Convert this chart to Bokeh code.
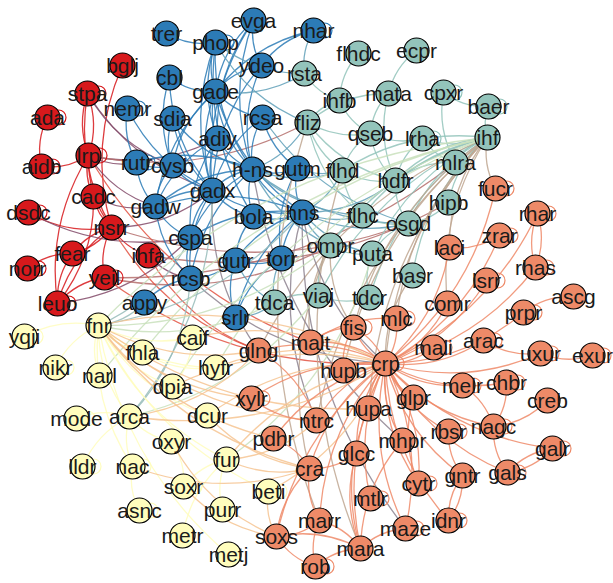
import numpy as np
from bokeh.plotting import figure
from bokeh.models import Range1d, ColumnDataSource
from bokeh.core.properties import value
from bokeh.embed import file_html
from bokeh.resources import INLINE

# ---- communities ----
red_nodes = ["bglj", "stpa", "ada", "aidb", "lrp", "cadc", "dsdc", "nsrr", "fear", "ihfa", "norr", "yeil", "leuo"]
blue_nodes = ["trer", "phop", "evga", "nhar", "cbl", "ydeo", "nemr", "gade", "sdia", "rcsa", "adiy", "rutr", "cysb",
              "h-ns", "gutm", "gadx", "gadw", "bola", "hns", "cspa", "rcsb", "gutr", "torr", "appy", "srlr"]
teal_nodes = ["flhdc", "ecpr", "rsta", "ihfb", "mata", "cpxr", "baer", "fliz", "qseb", "lrha", "ihf", "flhd", "hdfr",
              "mlra", "hipb", "flhc", "osgd", "ompr", "puta", "basr", "tdca", "viaj", "tdcr"]
salmon_nodes = ["fucr", "rhar", "zrar", "laci", "rhas", "lsrr", "ascg", "comr", "prpr", "mlc", "fis", "malt", "glng",
                "crp", "hupb", "mali", "arac", "uxur", "exur", "chbr", "melr", "creb", "xylr", "hupa", "glpr", "nagc",
                "ntrc", "pdhr", "mhpr", "rbsr", "galr", "glcc", "cra", "gntr", "gals", "cytr", "mtlr", "idnr", "maze",
                "marr", "soxs", "mara", "rob"]
yellow_nodes = ["yqji", "fnr", "caif", "fhla", "nikr", "narl", "hyfr", "dpia", "mode", "arca", "dcur", "oxyr", "fur",
                "lldr", "nac", "beti", "soxr", "asnc", "purr", "metr", "metj"]

# ---- layout (graph layout coordinates) ----
layout = {
    "bglj": (122, 65), "stpa": (87, 93), "ada": (47, 117), "aidb": (41, 166), "lrp": (88, 155), "cadc": (93, 196),
    "dsdc": (28, 212), "nsrr": (111, 227), "fear": (72, 253), "ihfa": (148, 255), "norr": (27, 268),
    "yeil": (104, 277), "leuo": (57, 303),
    "trer": (166, 33), "phop": (215, 42), "evga": (253, 20), "nhar": (313, 30), "cbl": (169, 77), "ydeo": (261, 65),
    "nemr": (127, 108), "gade": (215, 91), "sdia": (172, 118), "rcsa": (262, 117), "adiy": (217, 138),
    "rutr": (136, 162), "cysb": (172, 165), "h-ns": (252, 169), "gutm": (297, 168), "gadx": (212, 190),
    "gadw": (155, 206), "bola": (253, 216), "hns": (302, 212), "cspa": (190, 237), "rcsb": (190, 278),
    "gutr": (235, 260), "torr": (281, 258), "appy": (144, 302), "srlr": (235, 317),
    "flhdc": (358, 53), "ecpr": (416, 50), "rsta": (304, 73), "ihfb": (339, 100), "mata": (388, 93),
    "cpxr": (443, 92), "baer": (488, 106), "fliz": (307, 122), "qseb": (370, 133), "lrha": (422, 138),
    "ihf": (487, 137), "flhd": (342, 170), "hdfr": (395, 180), "mlra": (455, 162), "hipb": (448, 202),
    "flhc": (362, 215), "osgd": (408, 223), "ompr": (330, 245), "puta": (372, 253), "basr": (412, 275),
    "tdca": (274, 302), "viaj": (318, 295), "tdcr": (369, 297),
    "fucr": (495, 188), "rhar": (537, 213), "zrar": (499, 235), "laci": (449, 247), "rhas": (535, 267),
    "lsrr": (486, 280), "ascg": (573, 296), "comr": (447, 303), "prpr": (523, 312), "mlc": (396, 318),
    "fis": (353, 327), "malt": (310, 342), "glng": (258, 350), "crp": (385, 363), "hupb": (343, 370),
    "mali": (433, 347), "arac": (483, 340), "uxur": (540, 353), "exur": (592, 355), "chbr": (506, 382),
    "melr": (462, 385), "creb": (547, 400), "xylr": (251, 398), "hupa": (368, 408), "glpr": (413, 397),
    "nagc": (493, 426), "ntrc": (316, 420), "pdhr": (273, 438), "mhpr": (402, 440), "rbsr": (448, 431),
    "galr": (552, 448), "glcc": (356, 453), "cra": (309, 468), "gntr": (462, 475), "gals": (507, 472),
    "cytr": (418, 483), "mtlr": (370, 498), "idnr": (448, 520), "maze": (405, 528), "marr": (319, 520),
    "soxs": (276, 536), "mara": (360, 548), "rob": (315, 566),
    "yqji": (24, 336), "fnr": (98, 325), "caif": (192, 337), "fhla": (142, 352), "nikr": (55, 367),
    "narl": (99, 375), "hyfr": (215, 367), "dpia": (172, 386), "mode": (76, 418), "arca": (129, 416),
    "dcur": (207, 415), "oxyr": (171, 441), "fur": (226, 459), "lldr": (82, 466), "nac": (132, 466),
    "beti": (268, 491), "soxr": (183, 486), "asnc": (139, 510), "purr": (222, 509), "metr": (182, 535),
    "metj": (228, 554),
}

# ---- edges (source, target) ----
edges = [
    # red community
    ("stpa", "lrp"), ("lrp", "stpa"), ("stpa", "nsrr"), ("ada", "aidb"), ("aidb", "lrp"), ("lrp", "cadc"),
    ("lrp", "nsrr"), ("lrp", "leuo"), ("bglj", "nsrr"), ("dsdc", "nsrr"), ("nsrr", "fear"), ("nsrr", "ihfa"),
    ("nsrr", "yeil"), ("nsrr", "leuo"), ("fear", "norr"), ("fear", "leuo"), ("yeil", "leuo"), ("leuo", "cadc"),
    ("cadc", "nsrr"), ("fear", "nsrr"),
    # red - blue
    ("stpa", "gadx"), ("stpa", "cysb"), ("lrp", "gadw"), ("lrp", "rutr"), ("cadc", "gadw"), ("nsrr", "gadx"),
    ("leuo", "cspa"), ("ihfa", "rcsb"), ("dsdc", "cspa"), ("lrp", "adiy"),
    # red - teal / salmon
    ("lrp", "fliz"), ("nsrr", "osgd"), ("yeil", "mlra"), ("ihfa", "hipb"), ("yeil", "ompr"),
    ("lrp", "malt"), ("nsrr", "glng"), ("yeil", "crp"), ("ihfa", "glng"),
    # blue community
    ("trer", "phop"), ("phop", "gade"), ("phop", "adiy"), ("phop", "h-ns"), ("phop", "gadx"), ("evga", "gade"),
    ("evga", "ydeo"), ("evga", "h-ns"), ("evga", "adiy"), ("nhar", "ydeo"), ("nhar", "gade"), ("ydeo", "gade"),
    ("ydeo", "h-ns"), ("ydeo", "gadx"), ("cbl", "cysb"), ("cbl", "gadx"), ("nemr", "rutr"), ("gade", "adiy"),
    ("gade", "gadx"), ("gade", "gadw"), ("gade", "h-ns"), ("gade", "hns"), ("gade", "cysb"), ("gade", "rcsa"),
    ("sdia", "gadx"), ("sdia", "cysb"), ("rcsa", "h-ns"), ("rcsa", "gadx"), ("rcsa", "gutm"), ("adiy", "gadx"),
    ("adiy", "h-ns"), ("adiy", "gadw"), ("adiy", "cspa"), ("rutr", "cysb"), ("rutr", "gadw"), ("cysb", "gadx"),
    ("cysb", "gadw"), ("h-ns", "gadx"), ("h-ns", "gutm"), ("h-ns", "bola"), ("h-ns", "hns"), ("h-ns", "cspa"),
    ("h-ns", "rcsb"), ("h-ns", "gadw"), ("gutm", "hns"), ("gutm", "torr"), ("gadx", "gadw"), ("gadx", "cspa"),
    ("gadx", "bola"), ("gadx", "rcsb"), ("gadx", "hns"), ("gadw", "cspa"), ("gadw", "rcsb"), ("bola", "hns"),
    ("bola", "gutr"), ("hns", "torr"), ("hns", "gutr"), ("hns", "cspa"), ("hns", "srlr"), ("cspa", "rcsb"),
    ("rcsb", "appy"), ("rcsb", "gutr"), ("gutr", "srlr"), ("gutr", "torr"), ("torr", "srlr"), ("cbl", "gade"),
    ("sdia", "h-ns"), ("nemr", "gadx"), ("hns", "gadw"), ("h-ns", "rutr"), ("evga", "gadx"), ("phop", "bola"),
    # blue - teal
    ("phop", "rsta"), ("phop", "fliz"), ("h-ns", "flhd"), ("h-ns", "flhc"), ("h-ns", "osgd"), ("h-ns", "fliz"),
    ("hns", "flhc"), ("hns", "flhd"), ("hns", "osgd"), ("hns", "ompr"), ("hns", "puta"), ("gutm", "flhd"),
    ("rcsa", "osgd"), ("gade", "rsta"), ("srlr", "tdca"), ("gutr", "tdca"), ("torr", "tdca"), ("hns", "hdfr"),
    ("h-ns", "ompr"), ("nhar", "rsta"),
    # teal community
    ("flhdc", "ihfb"), ("ecpr", "mata"), ("mata", "qseb"), ("mata", "fliz"), ("cpxr", "baer"), ("cpxr", "mlra"),
    ("rsta", "ihfb"), ("ihfb", "fliz"), ("ihfb", "qseb"), ("fliz", "flhd"), ("fliz", "flhc"), ("fliz", "qseb"),
    ("fliz", "hdfr"), ("qseb", "flhd"), ("qseb", "hdfr"), ("qseb", "lrha"), ("lrha", "hdfr"), ("lrha", "ihf"),
    ("lrha", "mlra"), ("ihf", "mlra"), ("ihf", "hipb"), ("ihf", "osgd"), ("ihf", "flhd"), ("ihf", "flhc"),
    ("ihf", "ompr"), ("ihf", "puta"), ("ihf", "basr"), ("ihf", "hdfr"), ("mlra", "hdfr"), ("flhd", "flhc"),
    ("flhd", "hdfr"), ("flhc", "osgd"), ("hdfr", "osgd"), ("flhc", "ompr"), ("osgd", "hipb"), ("osgd", "puta"),
    ("ompr", "puta"), ("ompr", "viaj"), ("puta", "tdcr"), ("viaj", "tdca"), ("viaj", "tdcr"), ("baer", "ihf"),
    ("ihf", "tdcr"), ("mata", "hdfr"), ("ihf", "viaj"),
    # teal - salmon
    ("ihf", "crp"), ("ihf", "fis"), ("ihf", "hupb"), ("ihf", "mlc"), ("ihf", "hupa"), ("ihf", "fucr"),
    ("ihf", "comr"), ("ihf", "laci"), ("ompr", "malt"), ("ompr", "cra"), ("flhd", "mara"), ("basr", "crp"),
    ("ihf", "glng"), ("ihf", "ntrc"), ("fliz", "marr"), ("ompr", "fis"),
    # blue - salmon
    ("hns", "crp"), ("hns", "ntrc"), ("hns", "maze"), ("rcsb", "crp"), ("gadx", "glng"), ("h-ns", "mhpr"),
    # blue - yellow
    ("fnr", "appy"), ("fnr", "cspa"), ("arca", "rcsb"), ("fnr", "hns"), ("arca", "gadx"),
    # yellow - teal
    ("ihf", "fnr"), ("ihf", "hyfr"), ("ihf", "narl"), ("ihf", "fhla"), ("fnr", "ompr"), ("fnr", "tdca"),
    ("arca", "viaj"), ("ihf", "dpia"), ("fur", "puta"),
    # yellow community
    ("fnr", "caif"), ("fnr", "fhla"), ("fnr", "narl"), ("fnr", "nikr"), ("fnr", "yqji"), ("fnr", "hyfr"),
    ("fnr", "dpia"), ("fnr", "arca"), ("fnr", "nac"), ("fnr", "dcur"), ("arca", "mode"), ("arca", "lldr"),
    ("arca", "nac"), ("arca", "oxyr"), ("nac", "asnc"), ("fnr", "fur"), ("fur", "metr"), ("fur", "purr"),
    ("soxr", "oxyr"), ("dpia", "caif"), ("fnr", "metj"), ("fur", "soxr"), ("fhla", "hyfr"), ("fnr", "beti"),
    # yellow - salmon
    ("crp", "fnr"), ("crp", "dpia"), ("crp", "dcur"), ("crp", "fur"), ("crp", "caif"), ("crp", "hyfr"),
    ("fnr", "ntrc"), ("fnr", "xylr"), ("fnr", "glng"), ("fnr", "cra"), ("fnr", "pdhr"), ("fnr", "hupa"),
    ("soxr", "soxs"), ("oxyr", "soxs"), ("nac", "cra"), ("beti", "soxs"), ("fur", "cra"), ("arca", "glng"),
    ("dcur", "cra"), ("fur", "ntrc"), ("arca", "crp"), ("beti", "crp"),
    # salmon community
    ("crp", "fis"), ("crp", "mlc"), ("crp", "malt"), ("crp", "hupb"), ("crp", "mali"), ("crp", "arac"),
    ("crp", "melr"), ("crp", "glpr"), ("crp", "hupa"), ("crp", "mhpr"), ("crp", "rbsr"), ("crp", "gntr"),
    ("crp", "cytr"), ("crp", "maze"), ("crp", "mtlr"), ("crp", "glcc"), ("crp", "mara"), ("crp", "marr"),
    ("crp", "cra"), ("crp", "ntrc"), ("crp", "pdhr"), ("crp", "xylr"), ("crp", "glng"), ("crp", "comr"),
    ("crp", "lsrr"), ("crp", "laci"), ("crp", "zrar"), ("crp", "rhas"), ("crp", "rhar"), ("crp", "prpr"),
    ("crp", "uxur"), ("crp", "chbr"), ("crp", "nagc"), ("crp", "galr"), ("crp", "gals"), ("crp", "idnr"),
    ("crp", "fucr"), ("crp", "soxs"), ("fis", "crp"), ("cytr", "crp"), ("maze", "crp"),
    ("laci", "zrar"), ("rhar", "rhas"), ("rhas", "rhar"), ("ascg", "prpr"), ("arac", "uxur"), ("uxur", "exur"),
    ("nagc", "chbr"), ("nagc", "melr"), ("nagc", "creb"), ("nagc", "gals"), ("galr", "gals"), ("gals", "galr"),
    ("gntr", "idnr"), ("idnr", "gntr"), ("cra", "pdhr"), ("cra", "marr"), ("cra", "glcc"), ("mara", "marr"),
    ("mara", "rob"), ("marr", "rob"), ("soxs", "rob"), ("soxs", "marr"), ("mara", "soxs"), ("ntrc", "glng"),
    ("fis", "hupb"), ("fis", "malt"), ("mlc", "malt"), ("glcc", "mara"), ("maze", "mara"), ("rbsr", "gntr"),
    ("glpr", "cytr"), ("mhpr", "mara"), ("cra", "soxs"), ("xylr", "ntrc"), ("hupa", "mara"),
]

self_loops = ["ada", "aidb", "stpa", "lrp", "dsdc", "norr", "yeil", "leuo", "nemr", "rutr", "phop", "nhar",
              "cpxr", "baer", "lrha", "fucr", "rhar", "zrar", "rhas", "lsrr", "prpr", "arac", "uxur", "exur",
              "chbr", "melr", "nagc", "rbsr", "galr", "gals", "idnr", "cytr", "mtlr", "maze", "rob", "mali",
              "xylr", "fis", "mlc", "crp", "lldr", "nac", "nikr", "yqji", "beti", "soxr", "mode", "asnc"]

# ---- styles ----
palette = {"red": "#d7191c", "blue": "#2c7bb6", "teal": "#93c4bb", "salmon": "#ee8a68", "yellow": "#fffdbd"}
groups = [("red", red_nodes), ("blue", blue_nodes), ("teal", teal_nodes), ("salmon", salmon_nodes),
          ("yellow", yellow_nodes)]
node_color = {}
for g, names in groups:
    for n in names:
        node_color[n] = palette[g]


def hex2rgb(h):
    h = h.lstrip("#")
    return np.array([int(h[i:i + 2], 16) for i in (0, 2, 4)], dtype=float)


def blend(a, b):
    c = (hex2rgb(a) + hex2rgb(b)) / 2
    return "#%02x%02x%02x" % tuple(int(round(v)) for v in c)


x0, y0, x1, y1, cx, cy, ecol = [], [], [], [], [], [], []
curv = 0.18
for s, t in edges:
    xs, ys = layout[s]
    xt, yt = layout[t]
    mx, my = (xs + xt) / 2, (ys + yt) / 2
    dx, dy = xt - xs, yt - ys
    x0.append(xs); y0.append(ys); x1.append(xt); y1.append(yt)
    cx.append(mx - curv * dy)
    cy.append(my + curv * dx)
    c1, c2 = node_color[s], node_color[t]
    ecol.append(c1 if c1 == c2 else blend(c1, c2))

edge_src = ColumnDataSource(dict(x0=x0, y0=y0, x1=x1, y1=y1, cx=cx, cy=cy, color=ecol))

p = figure(width=613, height=583, output_backend="svg", toolbar_location=None,
           x_range=Range1d(0, 613), y_range=Range1d(583, 0), min_border=0)
p.axis.visible = False
p.grid.visible = False
p.outline_line_color = None
p.background_fill_color = "white"
p.border_fill_color = "white"

p.quadratic(x0="x0", y0="y0", x1="x1", y1="y1", cx="cx", cy="cy", source=edge_src,
            line_color="color", line_width=1.3, line_alpha=0.85)

loop_src = ColumnDataSource(dict(
    x=[layout[n][0] + 11 for n in self_loops],
    y=[layout[n][1] for n in self_loops],
    color=[node_color[n] for n in self_loops],
))
p.scatter(x="x", y="y", source=loop_src, marker="circle", size=15, fill_color=None,
          line_color="color", line_width=1.2)

names = list(layout.keys())
node_src = ColumnDataSource(dict(
    x=[layout[n][0] for n in names],
    y=[layout[n][1] for n in names],
    color=[node_color[n] for n in names],
    name=names,
))
p.scatter(x="x", y="y", source=node_src, marker="circle", size=25, fill_color="color",
          line_color="black", line_width=1.2)
p.text(x="x", y="y", text="name", source=node_src, text_align="center", text_baseline="middle",
       text_font=value("Liberation Sans"), text_font_size="21px", text_color="#1a1a1a")

open("out.html", "w").write(file_html(p, INLINE))
